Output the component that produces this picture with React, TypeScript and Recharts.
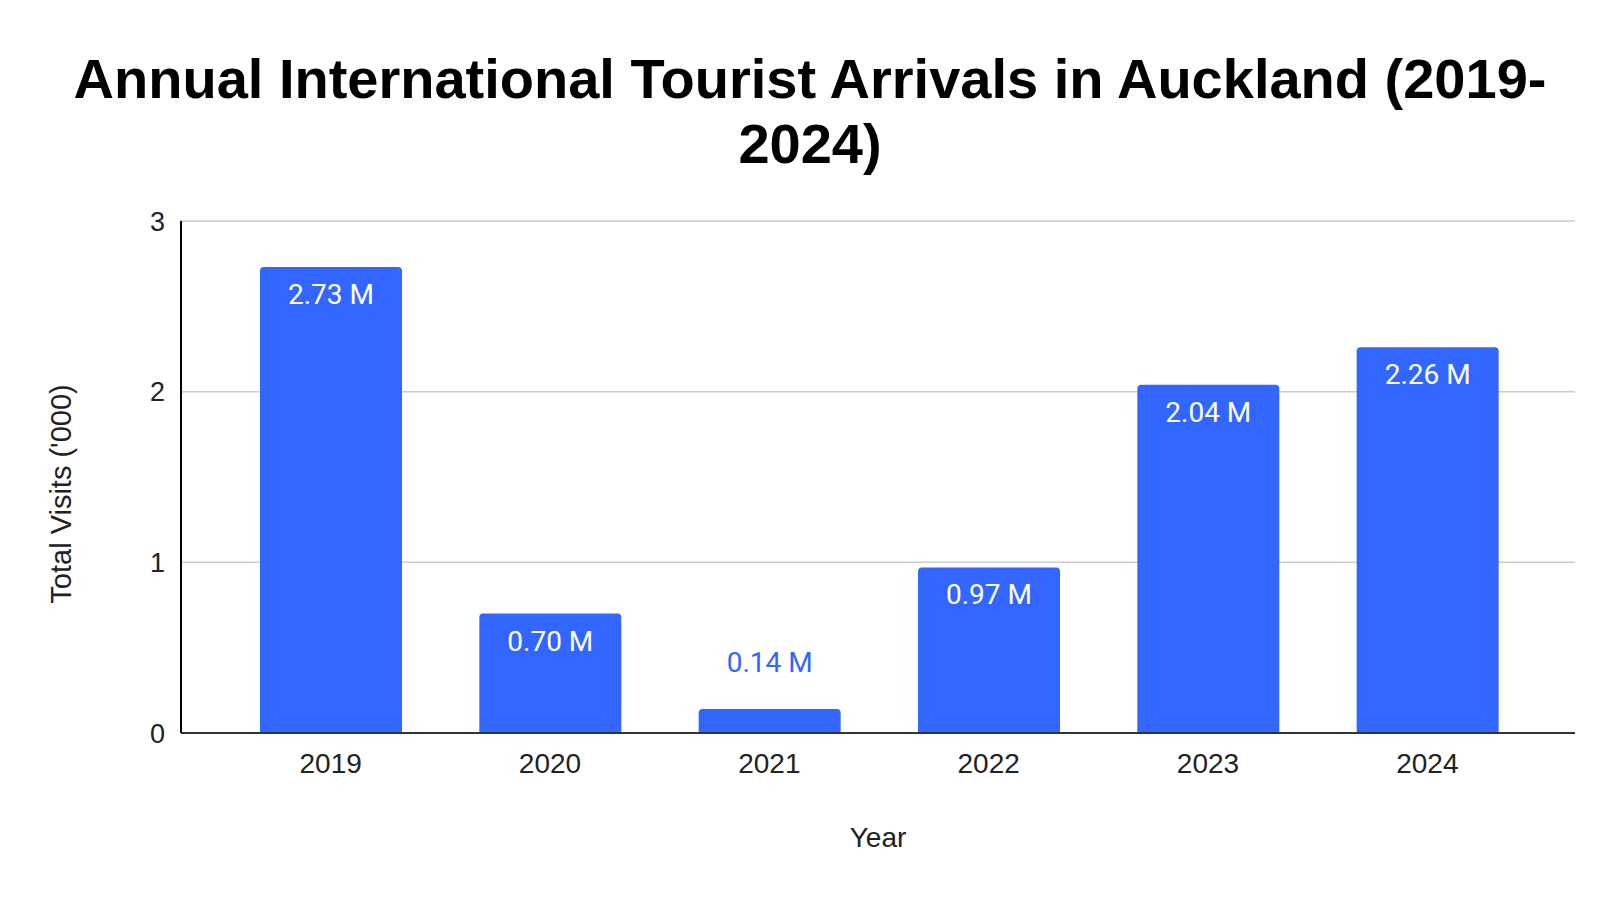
import { BarChart, Bar, XAxis, YAxis, CartesianGrid, LabelList, Label } from 'recharts';

const years = ['2019', '2020', '2021', '2022', '2023', '2024'];
const visits = [2.73, 0.7, 0.14, 0.97, 2.04, 2.26];
const yTicks = [0, 1, 2, 3];

const data = years.map((year, i) => ({ year, visits: visits[i] }));

const BLUE = '#3366ff';

function BarValue(props: any) {
  const { x, y, width, height, value } = props;
  const cx = x + width / 2;
  const inside = height > 60;
  return (
    <text
      x={cx}
      y={inside ? y + 37 : y - 37}
      textAnchor="middle"
      fontFamily="Roboto"
      fontSize={28}
      fill={inside ? '#ffffff' : BLUE}
    >
      {Number(value).toFixed(2) + ' M'}
    </text>
  );
}

export default function App() {
  return (
    <div style={{ position: 'absolute', left: 0, top: 0, width: 1620, height: 898, background: '#fff' }}>
      <div
        style={{
          position: 'absolute',
          left: 0,
          top: 46,
          width: 1620,
          textAlign: 'center',
          fontFamily: '"Liberation Sans", Arial, sans-serif',
          fontWeight: 'bold',
          fontSize: 56,
          lineHeight: '65px',
          color: '#000',
        }}
      >
        <div>Annual International Tourist Arrivals in Auckland (2019-</div>
        <div>2024)</div>
      </div>
      <BarChart
        width={1620}
        height={898}
        data={data}
        margin={{ top: 221, right: 45, bottom: 51, left: 121 }}
        style={{ position: 'absolute', left: 0, top: 0 }}
      >
        <CartesianGrid vertical={false} stroke="#cccccc" strokeWidth={1.5} />
        <XAxis
          dataKey="year"
          height={114}
          padding={{ left: 40, right: 38 }}
          tickLine={false}
          tickSize={0}
          tickMargin={20}
          axisLine={{ stroke: '#333333', strokeWidth: 2 }}
          tick={{ fill: '#222222', fontSize: 28, fontFamily: '"Liberation Sans", Arial' }}
        >
          <Label
            value="Year"
            position="insideBottom"
            offset={0}
            fill="#222222"
            fontSize={28}
            fontFamily='"Liberation Sans", Arial'
          />
        </XAxis>
        <YAxis
          width={60}
          domain={[0, 3]}
          ticks={yTicks}
          tickLine={false}
          tickSize={0}
          tickMargin={16}
          axisLine={{ stroke: '#000000', strokeWidth: 2 }}
          tick={{ fill: '#222222', fontSize: 27, fontFamily: '"Liberation Sans", Arial' }}
        />
        <text
          x={61}
          y={494}
          transform="rotate(-90 61 494)"
          textAnchor="middle"
          dominantBaseline="central"
          fill="#222222"
          fontSize={29}
          fontFamily='"Liberation Sans", Arial'
        >
          Total Visits ('000)
        </text>
        <Bar dataKey="visits" fill={BLUE} barSize={142} radius={[4, 4, 0, 0]} isAnimationActive={false}>
          <LabelList dataKey="visits" content={BarValue} />
        </Bar>
      </BarChart>
    </div>
  );
}
